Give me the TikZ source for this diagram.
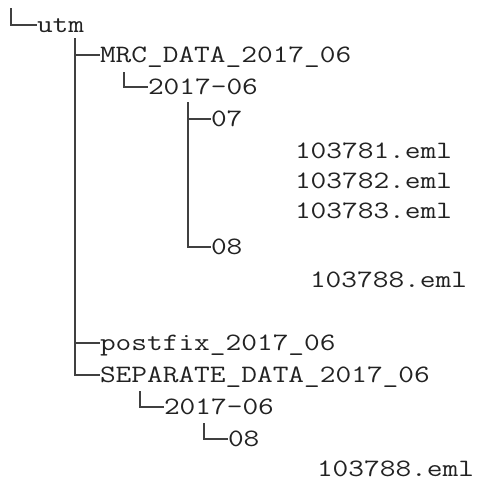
\documentclass[tikz,border=0pt]{standalone}
\usepackage{fontspec}
\newfontfamily\treefont{Latin Modern Mono}[FakeStretch=1.22]
\definecolor{txt}{HTML}{222222}
\definecolor{ln}{HTML}{404040}
\begin{document}
\begin{tikzpicture}[x=1pt,y=-1pt,
  item/.style={anchor=west,inner sep=0pt,outer sep=0pt,text height=15pt,text depth=0pt,
    font=\treefont\fontsize{25}{30}\selectfont,text=txt},
  branch/.style={draw=ln,line width=1.6pt}]
\useasboundingbox (0,0) rectangle (485,482);
% nodes
\node[item] (utm)  at (37,25)  {utm};
\node[item] (mrc)  at (100,55) {MRC\_DATA\_2017\_06};
\node[item] (d1)   at (148,87) {2017-06};
\node[item] (a07)  at (211,119) {07};
\node[item] (f1)   at (295,151) {103781.eml};
\node[item] (f2)   at (295,181) {103782.eml};
\node[item] (f3)   at (295,211) {103783.eml};
\node[item] (a08)  at (211,247) {08};
\node[item] (f4)   at (310,280) {103788.eml};
\node[item] (post) at (100,343) {postfix\_2017\_06};
\node[item] (sep)  at (100,375) {SEPARATE\_DATA\_2017\_06};
\node[item] (d2)   at (164,407) {2017-06};
\node[item] (b08)  at (228,439) {08};
\node[item] (f5)   at (317,469) {103788.eml};
% tree lines
\coordinate (r0) at (11,8);
\coordinate (v1) at (75,38);
\coordinate (v2) at (124,72);
\coordinate (v3) at (188,102);
\coordinate (v4) at (140,391);
\coordinate (v5) at (204,423);
\draw[branch] (r0) |- (utm.west);
\draw[branch] (v1) |- (mrc.west);
\draw[branch] (v1) |- (post.west);
\draw[branch] (v1) |- (sep.west);
\draw[branch] (v2) |- (d1.west);
\draw[branch] (v3) |- (a07.west);
\draw[branch] (v3) |- (a08.west);
\draw[branch] (v4) |- (d2.west);
\draw[branch] (v5) |- (b08.west);
\end{tikzpicture}
\end{document}
